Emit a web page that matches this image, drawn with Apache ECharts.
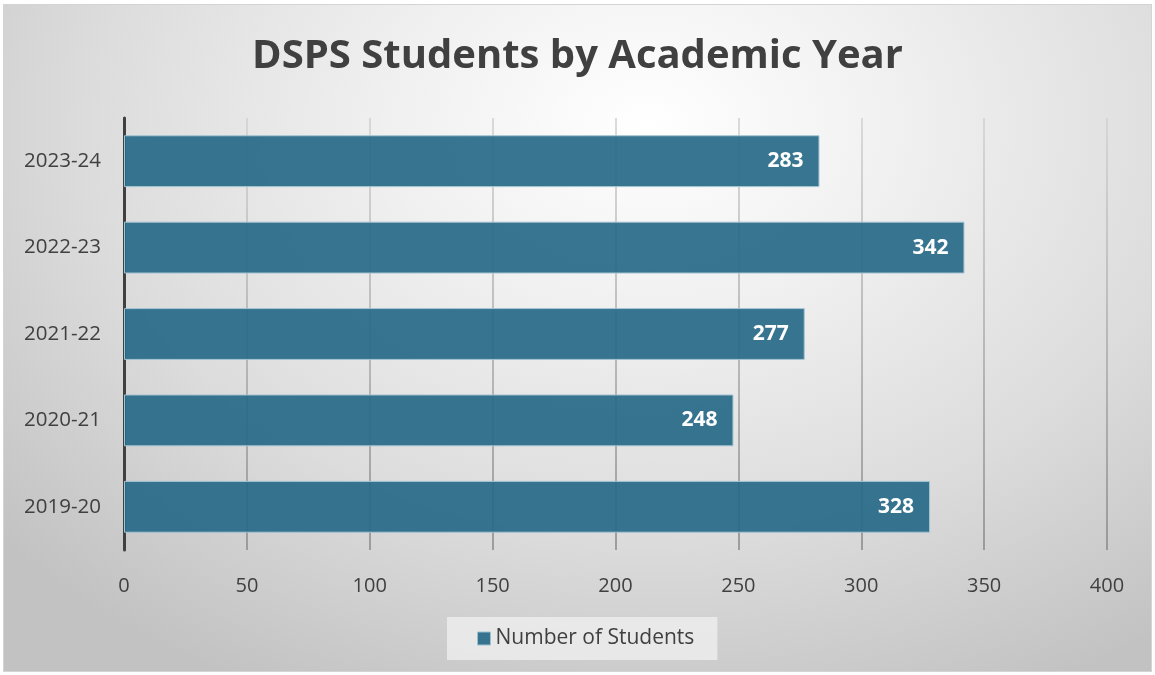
<!DOCTYPE html>
<html>
<head>
<meta charset="utf-8">
<style>
  html, body { margin: 0; padding: 0; background: #ffffff; }
  #chart {
    position: absolute; left: 3px; top: 4px; width: 1149px; height: 668px;
    box-sizing: border-box; border: 1px solid #d4d4d4;
    background: radial-gradient(ellipse 75% 95% at 56% 18%, #ffffff 0%, #f0f0f0 30%, #dcdcdc 65%, #c2c2c2 100%);
  }
</style>
<script src="https://cdn.jsdelivr.net/npm/echarts@6/dist/echarts.min.js"></script>
</head>
<body>
<div id="chart"></div>
<script>
// Academic years, listed bottom to top on the category axis
const years = ['2019-20', '2020-21', '2021-22', '2022-23', '2023-24'];
const students = [328, 248, 277, 342, 283];
const xTicks = [0, 50, 100, 150, 200, 250, 300, 350, 400];

const chart = echarts.init(document.getElementById('chart'), null, { renderer: 'canvas' });
const font = '"Open Sans", "Noto Sans", sans-serif';

chart.setOption({
  backgroundColor: 'transparent',
  title: {
    text: 'DSPS Students by Academic Year',
    left: 'center',
    top: 27,
    textStyle: { fontFamily: font, fontWeight: 'bold', fontSize: 40, color: '#404040' }
  },
  legend: {
    bottom: 11,
    left: 443,
    icon: 'rect',
    itemWidth: 13,
    itemHeight: 13,
    padding: [11, 23, 11, 30],
    backgroundColor: 'rgba(240,240,240,0.75)',
    textStyle: { fontFamily: font, fontSize: 21, color: '#404040' },
    itemStyle: { borderColor: '#9cc0d0', borderWidth: 1 }
  },
  grid: { left: 120, right: 44, top: 113, bottom: 121, containLabel: false },
  xAxis: {
    type: 'value',
    min: 0,
    max: 400,
    interval: 50,
    axisLine: { show: false },
    axisTick: { show: false },
    axisLabel: {
      margin: 26,
      fontFamily: font, fontSize: 20, color: '#404040',
      formatter: v => (xTicks.indexOf(v) >= 0 ? String(v) : '')
    },
    splitLine: {
      lineStyle: {
        width: 1.6,
        color: new echarts.graphic.LinearGradient(0, 113, 0, 547, [
          { offset: 0, color: '#d2d2d2' },
          { offset: 1, color: '#8c8c8c' }
        ], true)
      }
    }
  },
  yAxis: {
    type: 'category',
    data: years,
    axisLine: { lineStyle: { color: '#404040', width: 3 } },
    axisTick: { show: false },
    axisLabel: { margin: 23, fontFamily: font, fontSize: 20.5, color: '#404040' }
  },
  series: [{
    name: 'Number of Students',
    type: 'bar',
    data: students,
    barCategoryGap: '40%',
    itemStyle: { color: 'rgba(38,105,136,0.92)', borderColor: '#a6c4d2', borderWidth: 1 },
    label: {
      show: true,
      position: 'insideRight',
      distance: 16,
      fontFamily: font, fontWeight: 'bold', fontSize: 21, color: '#ffffff'
    },
    silent: true
  }],
  animation: false
});
</script>
</body>
</html>
